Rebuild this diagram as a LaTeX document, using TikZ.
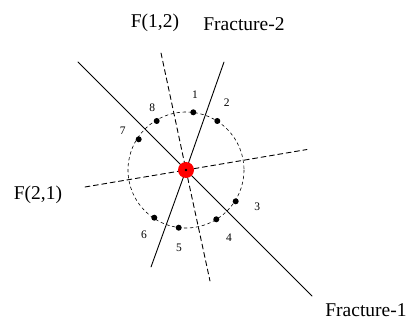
\documentclass[tikz,border=0pt]{standalone}
\usepackage{fontspec}
\setmainfont{Liberation Serif}
\usetikzlibrary{calc}

\begin{document}
\begin{tikzpicture}[x=1pt, y=-1pt, line cap=round, line join=round,
	big/.style={font=\fontsize{19.5}{22}\selectfont, inner sep=0pt},
	small/.style={font=\fontsize{11.5}{13}\selectfont, inner sep=0pt},
	pt/.style={circle, fill, inner sep=0pt, minimum size=6pt},
	frac/.style={line width=0.9pt},
	fdash/.style={line width=0.9pt, dash pattern=on 5pt off 3.5pt}]
	\useasboundingbox (0,0) rectangle (411,320);
	\coordinate (O) at (186,170);
	\draw[line width=0.6pt, dash pattern=on 3pt off 3pt] (O) circle (58);
	% fractures and their F-lines
	\coordinate (f1a) at (78,62);   \coordinate (f1b) at (312,296);
	\coordinate (f2a) at (224,62);  \coordinate (f2b) at (151,267);
	\coordinate (g12a) at (161,53); \coordinate (g12b) at (210,281);
	\coordinate (g21a) at (85,187); \coordinate (g21b) at (307,149.5);
	\draw[frac] (f1a) -- (O) -- (f1b);
	\draw[frac] (f2a) -- (O) -- (f2b);
	\draw[fdash] (g12a) -- (O) -- (g12b);
	\draw[fdash] (g21a) -- (O) -- (g21b);
	% points on the circle
	\node[pt] (p1) at (193.3,112.3) {};
	\node[pt] (p2) at (217.3,121) {};
	\node[pt] (p3) at (235.7,201.3) {};
	\node[pt] (p4) at (216.3,219.3) {};
	\node[pt] (p5) at (178.7,227.7) {};
	\node[pt] (p6) at (154.3,217.7) {};
	\node[pt] (p7) at (138.7,139.3) {};
	\node[pt] (p8) at (156.7,121) {};
	\node[small] (l1) at (195,95) {1};
	\node[small] (l2) at (226.7,102.7) {2};
	\node[small] (l3) at (257.3,206.7) {3};
	\node[small] (l4) at (229,237.3) {4};
	\node[small] (l5) at (179,247.7) {5};
	\node[small] (l6) at (144,235) {6};
	\node[small] (l7) at (122.7,131) {7};
	\node[small] (l8) at (152.3,108) {8};
	% well
	\node[circle, fill=red, inner sep=0pt, minimum size=16pt] (well) at (O) {};
	\fill (O) circle (1.3);
	\node[big] (t12) at (155,23) {F(1,2)};
	\node[big] (tf2) at (244,24) {Fracture-2};
	\node[big] (t21) at (38,195) {F(2,1)};
	\node[big] (tf1) at (366,310) {Fracture-1};
\end{tikzpicture}
\end{document}
